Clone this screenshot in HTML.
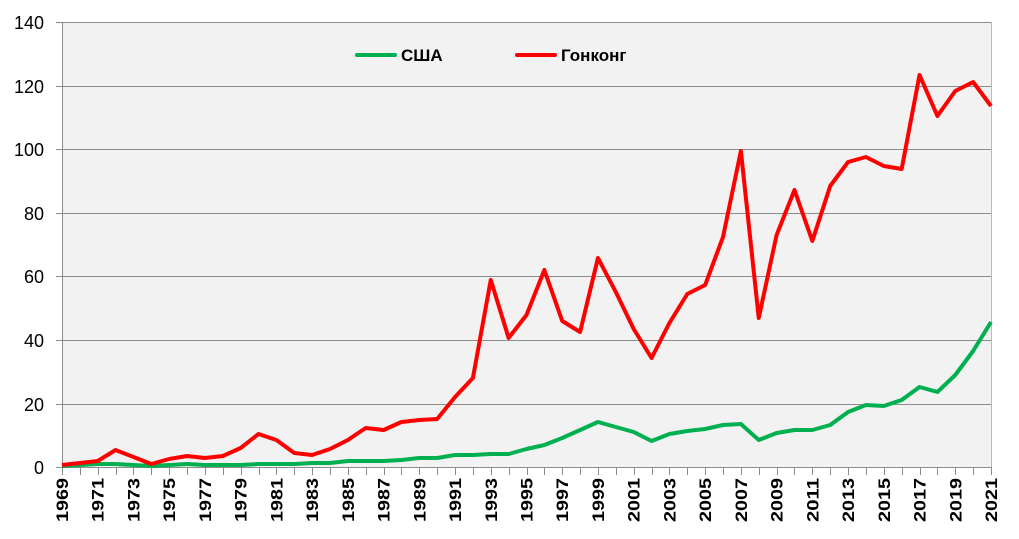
<!DOCTYPE html>
<html><head><meta charset="utf-8"><style>body{margin:0;background:#fff}svg{display:block}</style></head><body>
<svg width="1019" height="539" xmlns="http://www.w3.org/2000/svg" font-family="Liberation Sans, DejaVu Sans, sans-serif">
<rect x="62" y="22" width="929" height="445" fill="#f2f2f2"/>
<g stroke="#8c8c8c" stroke-width="1">
<line x1="56" y1="22.5" x2="991" y2="22.5"/><line x1="56" y1="86.5" x2="991" y2="86.5"/><line x1="56" y1="149.5" x2="991" y2="149.5"/><line x1="56" y1="213.5" x2="991" y2="213.5"/><line x1="56" y1="276.5" x2="991" y2="276.5"/><line x1="56" y1="340.5" x2="991" y2="340.5"/><line x1="56" y1="404.5" x2="991" y2="404.5"/><line x1="56" y1="467.5" x2="991" y2="467.5"/>
<line x1="62.5" y1="22" x2="62.5" y2="475"/>
<line x1="991.5" y1="22" x2="991.5" y2="475" stroke="#bbb"/>
</g>
<g id="ticks" stroke="#8c8c8c"></g>
<g font-size="18" fill="#000" text-anchor="end">
<text x="44" y="29">140</text><text x="44" y="93">120</text><text x="44" y="156">100</text><text x="44" y="220">80</text><text x="44" y="283">60</text><text x="44" y="347">40</text><text x="44" y="411">20</text><text x="44" y="474">0</text>
</g>
<g id="xl" font-size="17" font-weight="bold" text-anchor="end"></g>
<polyline id="g" fill="none" stroke="#00b050" stroke-width="4" stroke-linejoin="round"/>
<polyline id="r" fill="none" stroke="#ff0000" stroke-width="4" stroke-linejoin="round"/>
<line x1="357" y1="55" x2="395" y2="55" stroke="#00b050" stroke-width="4" stroke-linecap="round"/>
<text x="401" y="61" font-size="17" font-weight="bold">США</text>
<line x1="517" y1="55" x2="555" y2="55" stroke="#ff0000" stroke-width="4" stroke-linecap="round"/>
<text x="561" y="61" font-size="17" font-weight="bold">Гонконг</text>
</svg>
<script>
var r=[465,463,461,450,457,464,459,456,458,456,448,434,440,453,455,449,440,428,430,422,420,419,397,378,280,338,315,270,321,332,258,292,329,358,323,294,285,237,151,318,235,190,241,186,162,157,166,169,75,116,91,82,106];
var g=[466,465,464,464,465,466,465,464,465,465,465,464,464,464,463,463,461,461,461,460,458,458,455,455,454,454,449,445,438,430,422,427,432,441,434,431,429,425,424,440,433,430,430,425,412,405,406,400,387,392,375,351,322];
function X(i){return 62+i*929/52;}
document.getElementById('r').setAttribute('points',r.map((v,i)=>X(i)+','+v).join(' '));
document.getElementById('g').setAttribute('points',g.map((v,i)=>X(i)+','+v).join(' '));
var ns='http://www.w3.org/2000/svg',t=document.getElementById('ticks'),xl=document.getElementById('xl');
for(var i=0;i<=52;i++){var l=document.createElementNS(ns,'line');var x=Math.round(X(i))+0.5;l.setAttribute('x1',x);l.setAttribute('x2',x);l.setAttribute('y1',467);l.setAttribute('y2',475);t.appendChild(l);
if(i%2==0){var tx=document.createElementNS(ns,'text');var xx=X(i)+6;tx.setAttribute('transform','translate('+xx+',478) rotate(-90)');tx.setAttribute('textLength','44');tx.setAttribute('lengthAdjust','spacingAndGlyphs');tx.textContent=1969+i;xl.appendChild(tx);}}
</script>
</body></html>
